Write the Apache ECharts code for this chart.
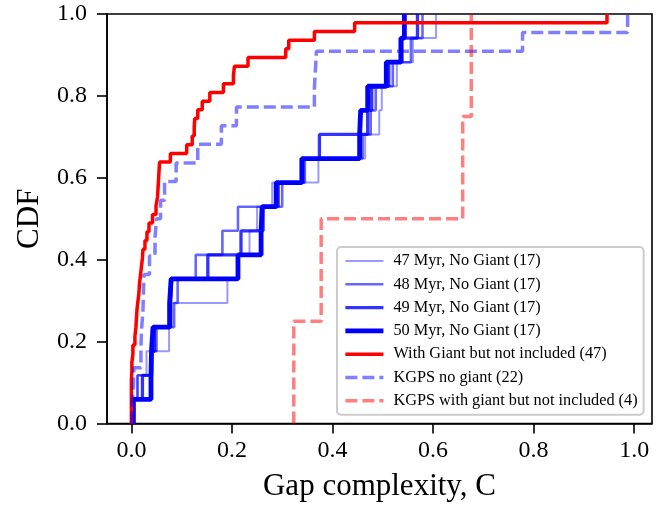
<!DOCTYPE html>
<html>
<head>
<meta charset="utf-8">
<script src="https://cdn.jsdelivr.net/npm/echarts@6/dist/echarts.min.js"></script>
<style>
html,body{margin:0;padding:0;background:#fff;}
#chart{width:671px;height:508px;}
</style>
</head>
<body>
<div id="chart"></div>
<script>
// Sorted gap-complexity values (C) for each sample; CDF steps of 1/n at each value
const seriesNames = [
  "47 Myr, No Giant (17)",
  "48 Myr, No Giant (17)",
  "49 Myr, No Giant (17)",
  "50 Myr, No Giant (17)",
  "With Giant but not included (47)",
  "KGPS no giant (22)",
  "KGPS with giant but not included (4)"
];
const myr47 = [0.004, 0.0125, 0.030, 0.075, 0.080, 0.191, 0.213, 0.235, 0.250, 0.280, 0.372, 0.465, 0.493, 0.498, 0.528, 0.560, 0.606];
const myr48 = [0.004, 0.012, 0.041, 0.050, 0.085, 0.092, 0.128, 0.181, 0.212, 0.300, 0.345, 0.460, 0.476, 0.486, 0.520, 0.556, 0.579];
const myr49 = [0.004, 0.022, 0.040, 0.046, 0.078, 0.080, 0.152, 0.218, 0.262, 0.292, 0.341, 0.374, 0.470, 0.478, 0.512, 0.538, 0.569];
const myr50 = [0.004, 0.039, 0.040, 0.043, 0.076, 0.079, 0.212, 0.258, 0.260, 0.288, 0.339, 0.454, 0.456, 0.470, 0.507, 0.536, 0.543];
const withGiant = [0.000, 0.000, 0.000, 0.000, 0.000, 0.001, 0.001, 0.003, 0.003, 0.007,
                   0.009, 0.010, 0.011, 0.013, 0.015, 0.016, 0.018, 0.020, 0.022, 0.023,
                   0.027, 0.031, 0.035, 0.042, 0.049, 0.052, 0.053, 0.054, 0.055, 0.056,
                   0.0775, 0.110, 0.121, 0.125, 0.126, 0.132, 0.141, 0.156, 0.183, 0.203,
                   0.205, 0.232, 0.307, 0.313, 0.364, 0.444, 0.946];
const kgpsNoGiant = [0.001, 0.004, 0.005, 0.019, 0.020, 0.023, 0.024, 0.025, 0.036, 0.047,
                     0.050, 0.058, 0.066, 0.089, 0.132, 0.179, 0.209, 0.364, 0.366, 0.368,
                     0.778, 0.987];
const kgpsWithGiant = [0.323, 0.3775, 0.659, 0.676];
const xTicks = [0, 0.2, 0.4, 0.6, 0.8, 1.0];
const yTicks = [0, 0.2, 0.4, 0.6, 0.8, 1.0];

function cdf(vals) {
  const n = vals.length;
  const pts = [[vals[0], 0]];
  vals.forEach((v, i) => pts.push([v, (i + 1) / n]));
  return pts;
}

const FONT = "Liberation Serif";
const styles = [
  {color: 'rgba(0,0,255,0.4)', width: 2, type: 'solid'},
  {color: 'rgba(0,0,255,0.6)', width: 2.6, type: 'solid'},
  {color: 'rgba(0,0,255,0.8)', width: 3.3, type: 'solid'},
  {color: 'rgba(0,0,255,1)', width: 4.8, type: 'solid'},
  {color: '#ff0000', width: 3.5, type: 'solid'},
  {color: 'rgba(0,0,255,0.5)', width: 3.5, type: [12, 5]},
  {color: 'rgba(255,0,0,0.5)', width: 3.5, type: [12, 5]}
];
const datasets = [myr47, myr48, myr49, myr50, withGiant, kgpsNoGiant, kgpsWithGiant];

const chart = echarts.init(document.getElementById('chart'), null, {renderer: 'canvas'});
chart.setOption({
  animation: false,
  backgroundColor: '#ffffff',
  grid: {left: 107, right: 19, top: 14, bottom: 84.5, show: true, borderColor: '#000', borderWidth: 1.6, backgroundColor: 'transparent'},
  xAxis: {
    type: 'value', min: -0.0485, max: 1.0355,
    name: 'Gap complexity, C', nameLocation: 'middle', nameGap: 48,
    nameTextStyle: {fontFamily: FONT, fontSize: 31, color: '#000'},
    axisLine: {show: true, onZero: false, lineStyle: {color: '#000', width: 1.6}},
    axisTick: {show: true, inside: false, length: 10, lineStyle: {color: '#000', width: 1.6}, customValues: xTicks},
    axisLabel: {fontFamily: FONT, fontSize: 24, color: '#000', margin: 15, customValues: xTicks, formatter: v => v.toFixed(1)},
    splitLine: {show: false}
  },
  yAxis: {
    type: 'value', min: 0, max: 1, interval: 0.2,
    name: 'CDF', nameLocation: 'middle', nameGap: 62,
    nameTextStyle: {fontFamily: FONT, fontSize: 31, color: '#000'},
    axisLine: {show: true, onZero: false, lineStyle: {color: '#000', width: 1.6}},
    axisTick: {show: true, inside: false, length: 10, lineStyle: {color: '#000', width: 1.6}},
    axisLabel: {fontFamily: FONT, fontSize: 24, color: '#000', margin: 20, customValues: yTicks, formatter: v => v.toFixed(1)},
    splitLine: {show: false}
  },
  legend: {
    orient: 'vertical', left: 337, top: 247,
    padding: [6, 6, 6, 6], itemGap: 7.3, itemWidth: 38, itemHeight: 16,
    backgroundColor: 'rgba(255,255,255,0.8)', borderColor: '#cccccc', borderWidth: 2, borderRadius: 4,
    itemStyle: {color: 'transparent', borderWidth: 0, opacity: 0},
    textStyle: {fontFamily: FONT, fontSize: 16.3, color: '#000', padding: [0, 0, 0, 5]},
    data: seriesNames.map((n, i) => ({
      name: n,
      lineStyle: {color: styles[i].color, width: styles[i].width, type: styles[i].type}
    }))
  },
  series: datasets.map((d, i) => ({
    name: seriesNames[i], type: 'line', step: 'end', showSymbol: false, symbol: 'none',
    data: cdf(d), lineStyle: styles[i], itemStyle: {color: styles[i].color},
    clip: false, z: 2 + i
  }))
});
</script>
</body>
</html>
